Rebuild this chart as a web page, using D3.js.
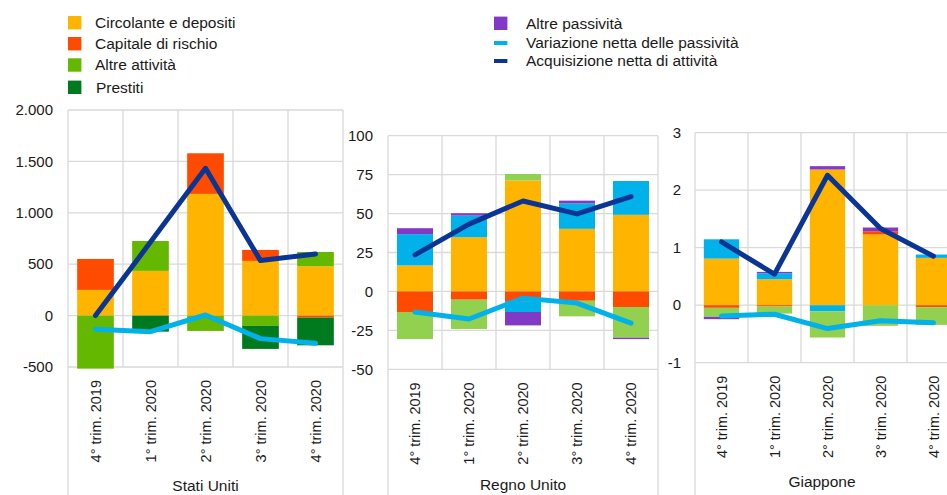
<!DOCTYPE html>
<html lang="it">
<head>
<meta charset="utf-8">
<script src="https://cdn.jsdelivr.net/npm/d3@7/dist/d3.min.js"></script>
<style>
  html, body { margin: 0; padding: 0; background: #fff; }
  svg { display: block; font-family: "Liberation Sans", Arial, sans-serif; }
</style>
</head>
<body>
<svg id="chart" width="947" height="495"></svg>
<script>
// Trimestri (asse delle categorie)
const quarters = ["4° trim. 2019", "1° trim. 2020", "2° trim. 2020", "3° trim. 2020", "4° trim. 2020"];

// Stati Uniti (miliardi di dollari)
const usCircolante     = [250, 435, 1184, 532, 480];
const usCapitale       = [301, 0, 395, 107, -19];
const usAltreAttivita  = [-516, 291, -149, -100, 139];
const usPrestiti       = [0, -156, 0, -224, -270];
const usAcquisizione   = [0, 715, 1433, 535, 600];
const usPassivita      = [-133, -156, 6, -224, -269];
const usTicks          = [-500, 0, 500, 1000, 1500, 2000];

// Regno Unito (miliardi di sterline)
const ukCircolante     = [16.7, 34.8, 71.2, 40.2, 49.2];
const ukCapitale       = [-13.2, -5.3, -6.2, -6.0, -10.0];
const ukPrestiti       = [20.1, 13.9, -7.0, 16.4, 21.7];
const ukAltreAttivita  = [-17.4, -18.8, 4.2, -10.0, -19.7];
const ukAltrePassivita = [3.8, 1.5, -8.6, 1.7, -0.9];
const ukAcquisizione   = [23.5, 43.2, 58.1, 49.8, 60.9];
const ukPassivita      = [-13.2, -17.7, -4.3, -7.5, -20.3];
const ukTicks          = [-50, -25, 0, 25, 50, 75, 100];

// Giappone (migliaia di miliardi di yen)
const jpCircolante     = [0.81, 0.452, 2.36, 1.229, 0.823];
const jpCapitale       = [-0.046, -0.023, 0, 0.058, -0.035];
const jpPrestiti       = [0.336, 0.104, -0.104, 0, 0.058];
const jpAltreAttivita  = [-0.157, -0.122, -0.458, -0.359, -0.307];
const jpAltrePassivita = [-0.04, 0.023, 0.058, 0.064, 0];
const jpAcquisizione   = [1.10, 0.54, 2.26, 1.333, 0.852];
const jpPassivita      = [-0.186, -0.157, -0.406, -0.272, -0.307];
const jpTicks          = [-1, 0, 1, 2, 3];

const C = {
  yellow: "#FFB400", red: "#FF4B00", green: "#65B800", darkGreen: "#007A1E",
  lightGreen: "#92D050", cyan: "#00B1EA", purple: "#8139C6", blue: "#0B3595",
  grid: "#D9D9D9", text: "#1a1a1a"
};

const itLocale = d3.formatLocale({ decimal: ",", thousands: ".", grouping: [3], currency: ["€", ""], minus: "-" });
const fmtInt = itLocale.format(",d");
const fmtPlain = itLocale.format("d");

const panels = [
  {
    title: "Stati Uniti", x0: 68, x1: 343, y0: 110, y1: 367, domain: [-500, 2000], ticks: usTicks, fmt: fmtInt,
    labelX: 53, titleY: 491,
    series: [
      { key: "circ", values: usCircolante, color: C.yellow },
      { key: "cap", values: usCapitale, color: C.red },
      { key: "alt", values: usAltreAttivita, color: C.green },
      { key: "pre", values: usPrestiti, color: C.darkGreen }
    ],
    acq: usAcquisizione, pas: usPassivita
  },
  {
    title: "Regno Unito", x0: 388, x1: 658, y0: 135.7, y1: 369.3, domain: [-50, 100], ticks: ukTicks, fmt: fmtPlain,
    labelX: 373, titleY: 490,
    series: [
      { key: "circ", values: ukCircolante, color: C.yellow },
      { key: "cap", values: ukCapitale, color: C.red },
      { key: "pre", values: ukPrestiti, color: C.cyan },
      { key: "alt", values: ukAltreAttivita, color: C.lightGreen },
      { key: "pas", values: ukAltrePassivita, color: C.purple }
    ],
    acq: ukAcquisizione, pas: ukPassivita
  },
  {
    title: "Giappone", x0: 695, x1: 960, y0: 132.7, y1: 362.7, domain: [-1, 3], ticks: jpTicks, fmt: fmtPlain,
    labelX: 681, titleY: 487, titleCx: 822,
    series: [
      { key: "circ", values: jpCircolante, color: C.yellow },
      { key: "cap", values: jpCapitale, color: C.red },
      { key: "pre", values: jpPrestiti, color: C.cyan },
      { key: "alt", values: jpAltreAttivita, color: C.lightGreen },
      { key: "pas", values: jpAltrePassivita, color: C.purple }
    ],
    acq: jpAcquisizione, pas: jpPassivita
  }
];

const svg = d3.select("#chart");

panels.forEach(p => {
  const g = svg.append("g");
  const x = d3.scaleBand().domain(quarters).range([p.x0, p.x1]).padding(0);
  const y = d3.scaleLinear().domain(p.domain).range([p.y1, p.y0]);
  const bw = x.bandwidth() * 2 / 3;

  // griglia orizzontale
  g.selectAll("line.h").data(p.ticks).join("line")
    .attr("x1", p.x0).attr("x2", p.x1)
    .attr("y1", d => y(d)).attr("y2", d => y(d))
    .attr("stroke", C.grid).attr("stroke-width", 1.3);

  // griglia verticale ai bordi delle categorie
  const bounds = quarters.map(q => x(q)).slice(1);
  g.selectAll("line.v").data(bounds).join("line")
    .attr("x1", d => d).attr("x2", d => d)
    .attr("y1", p.y0).attr("y2", p.y1)
    .attr("stroke", C.grid).attr("stroke-width", 1.3);

  // cornice laterale del pannello
  [p.x0, p.x1].forEach(xx => {
    g.append("line").attr("x1", xx).attr("x2", xx).attr("y1", p.y0).attr("y2", 495)
      .attr("stroke", C.grid).attr("stroke-width", 1.3);
  });

  // barre impilate
  const rows = quarters.map((q, i) => {
    const r = { q };
    p.series.forEach(s => { r[s.key] = s.values[i]; });
    return r;
  });
  const stack = d3.stack().keys(p.series.map(s => s.key)).offset(d3.stackOffsetDiverging);
  const layers = stack(rows);
  layers.forEach((layer, li) => {
    g.append("g").attr("fill", p.series[li].color)
      .selectAll("rect").data(layer).join("rect")
      .attr("x", d => x(d.data.q) + (x.bandwidth() - bw) / 2)
      .attr("width", bw)
      .attr("y", d => y(Math.max(d[0], d[1])))
      .attr("height", d => Math.abs(y(d[0]) - y(d[1])));
  });

  // linee
  const line = d3.line().x((d, i) => x(quarters[i]) + x.bandwidth() / 2).y(d => y(d));
  g.append("path").datum(p.pas).attr("d", line)
    .attr("fill", "none").attr("stroke", C.cyan).attr("stroke-width", 5)
    .attr("stroke-linecap", "round").attr("stroke-linejoin", "round");
  g.append("path").datum(p.acq).attr("d", line)
    .attr("fill", "none").attr("stroke", C.blue).attr("stroke-width", 5)
    .attr("stroke-linecap", "round").attr("stroke-linejoin", "round");

  // etichette asse y
  g.selectAll("text.yt").data(p.ticks).join("text")
    .attr("x", p.labelX).attr("y", d => y(d)).attr("dy", "0.35em")
    .attr("text-anchor", "end").attr("font-size", 15).attr("fill", C.text)
    .text(d => p.fmt(d));

  // etichette categorie, ruotate
  g.selectAll("text.xt").data(quarters).join("text")
    .attr("transform", d => `translate(${x(d) + x.bandwidth() / 2 + 5},${p.y1 + 13}) rotate(-90)`)
    .attr("text-anchor", "end").attr("font-size", 14.5).attr("fill", C.text)
    .text(d => d);

  // titolo del pannello
  g.append("text")
    .attr("x", p.titleCx || (p.x0 + p.x1) / 2).attr("y", p.titleY)
    .attr("text-anchor", "middle").attr("font-size", 15.5).attr("fill", C.text)
    .text(p.title);
});

// legenda
const legendLeft = [
  { label: "Circolante e depositi", color: C.yellow, cy: 22.7 },
  { label: "Capitale di rischio", color: C.red, cy: 43.7 },
  { label: "Altre attività", color: C.green, cy: 65 },
  { label: "Prestiti", color: C.darkGreen, cy: 87.3, tx: 96 }
];
const legendRight = [
  { label: "Altre passività", color: C.purple, cy: 23.3, kind: "box" },
  { label: "Variazione netta delle passività", color: C.cyan, cy: 43, kind: "line" },
  { label: "Acquisizione netta di attività", color: C.blue, cy: 61, kind: "line" }
];
const lg = svg.append("g");
legendLeft.forEach(d => {
  lg.append("rect").attr("x", 68).attr("y", d.cy - 6.7).attr("width", 13.4).attr("height", 13.4).attr("fill", d.color);
  lg.append("text").attr("x", d.tx || 95).attr("y", d.cy).attr("dy", "0.35em")
    .attr("font-size", 15.5).attr("fill", C.text).text(d.label);
});
legendRight.forEach(d => {
  const h = d.kind === "box" ? 13.4 : 4;
  lg.append("rect").attr("x", 494).attr("y", d.cy - h / 2).attr("width", 13.4).attr("height", h).attr("fill", d.color);
  lg.append("text").attr("x", 526).attr("y", d.cy).attr("dy", "0.35em")
    .attr("font-size", 15.5).attr("fill", C.text).text(d.label);
});
</script>
</body>
</html>
